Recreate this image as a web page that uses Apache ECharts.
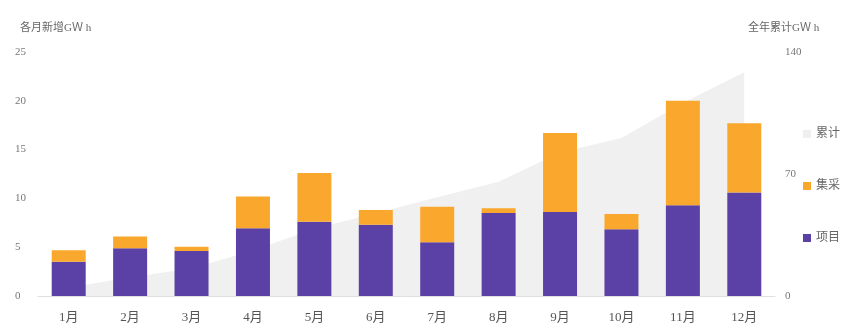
<!DOCTYPE html>
<html><head><meta charset="utf-8">
<script src="https://cdn.jsdelivr.net/npm/echarts@6/dist/echarts.min.js"></script>
<style>html,body{margin:0;padding:0;background:#fff}#c{width:855px;height:333px}</style>
</head><body><div id="c"></div>
<script>
const categories = ['1月','2月','3月','4月','5月','6月','7月','8月','9月','10月','11月','12月'];
const projectVals = [3.5, 4.9, 4.6, 6.95, 7.6, 7.3, 5.5, 8.5, 8.6, 6.85, 9.3, 10.6];
const centralVals = [1.2, 1.2, 0.45, 3.25, 5.0, 1.5, 3.65, 0.5, 8.1, 1.55, 10.7, 7.1];
const cumulativeVals = [4.7, 10.8, 15.85, 26.05, 38.65, 47.45, 56.6, 65.6, 82.3, 90.7, 110.7, 128.4];
const leftTicks = [0, 5, 10, 15, 20, 25];
const rightTicks = [0, 70, 140];

const FONT = "'Liberation Serif', 'Noto Sans CJK SC', serif";
const chart = echarts.init(document.getElementById('c'));
chart.setOption({
  animation: false,
  backgroundColor: '#fff',
  textStyle: { fontFamily: FONT },
  grid: { left: 38, right: 80, top: 52, bottom: 37 },
  legend: {
    orient: 'vertical', left: 798, top: 123, itemGap: 40,
    itemWidth: 8, itemHeight: 8, icon: 'rect',
    textStyle: { color: '#666', fontSize: 12, fontFamily: FONT },
    data: ['累计', '集采', '项目']
  },
  xAxis: {
    type: 'category', data: categories,
    axisLine: { lineStyle: { color: '#e0e0e0' } },
    axisTick: { show: false },
    axisLabel: { color: '#555', fontSize: 13, margin: 15, fontFamily: FONT }
  },
  yAxis: [{
    type: 'value', min: leftTicks[0], max: leftTicks[leftTicks.length-1], interval: 5,
    name: '各月新增GＷ h', nameGap: 18,
    nameTextStyle: { color: '#666', fontSize: 11, align: 'left', padding: [0,0,0,-18], fontFamily: FONT },
    splitLine: { show: false }, axisLine: { show: false }, axisTick: { show: false },
    axisLabel: { color: '#777', fontSize: 11, align: 'left', margin: 23, fontFamily: FONT }
  }, {
    type: 'value', min: rightTicks[0], max: rightTicks[rightTicks.length-1], interval: 70,
    name: '全年累计GＷ h', nameGap: 18,
    nameTextStyle: { color: '#666', fontSize: 11, align: 'left', padding: [0,0,0,-27], fontFamily: FONT },
    splitLine: { show: false }, axisLine: { show: false }, axisTick: { show: false },
    axisLabel: { color: '#777', fontSize: 11, margin: 10, fontFamily: FONT }
  }],
  series: [{
    name: '累计', type: 'line', yAxisIndex: 1, data: cumulativeVals,
    symbol: 'none', lineStyle: { width: 0 }, itemStyle: { color: '#efefef' },
    areaStyle: { color: '#f0f0f0', opacity: 1 }, z: 1
  }, {
    name: '项目', type: 'bar', stack: 'm', data: projectVals, barWidth: 34,
    itemStyle: { color: '#5b40a5' }, z: 3
  }, {
    name: '集采', type: 'bar', stack: 'm', data: centralVals, barWidth: 34,
    itemStyle: { color: '#f9a82d' }, z: 3
  }]
});
</script></body></html>
